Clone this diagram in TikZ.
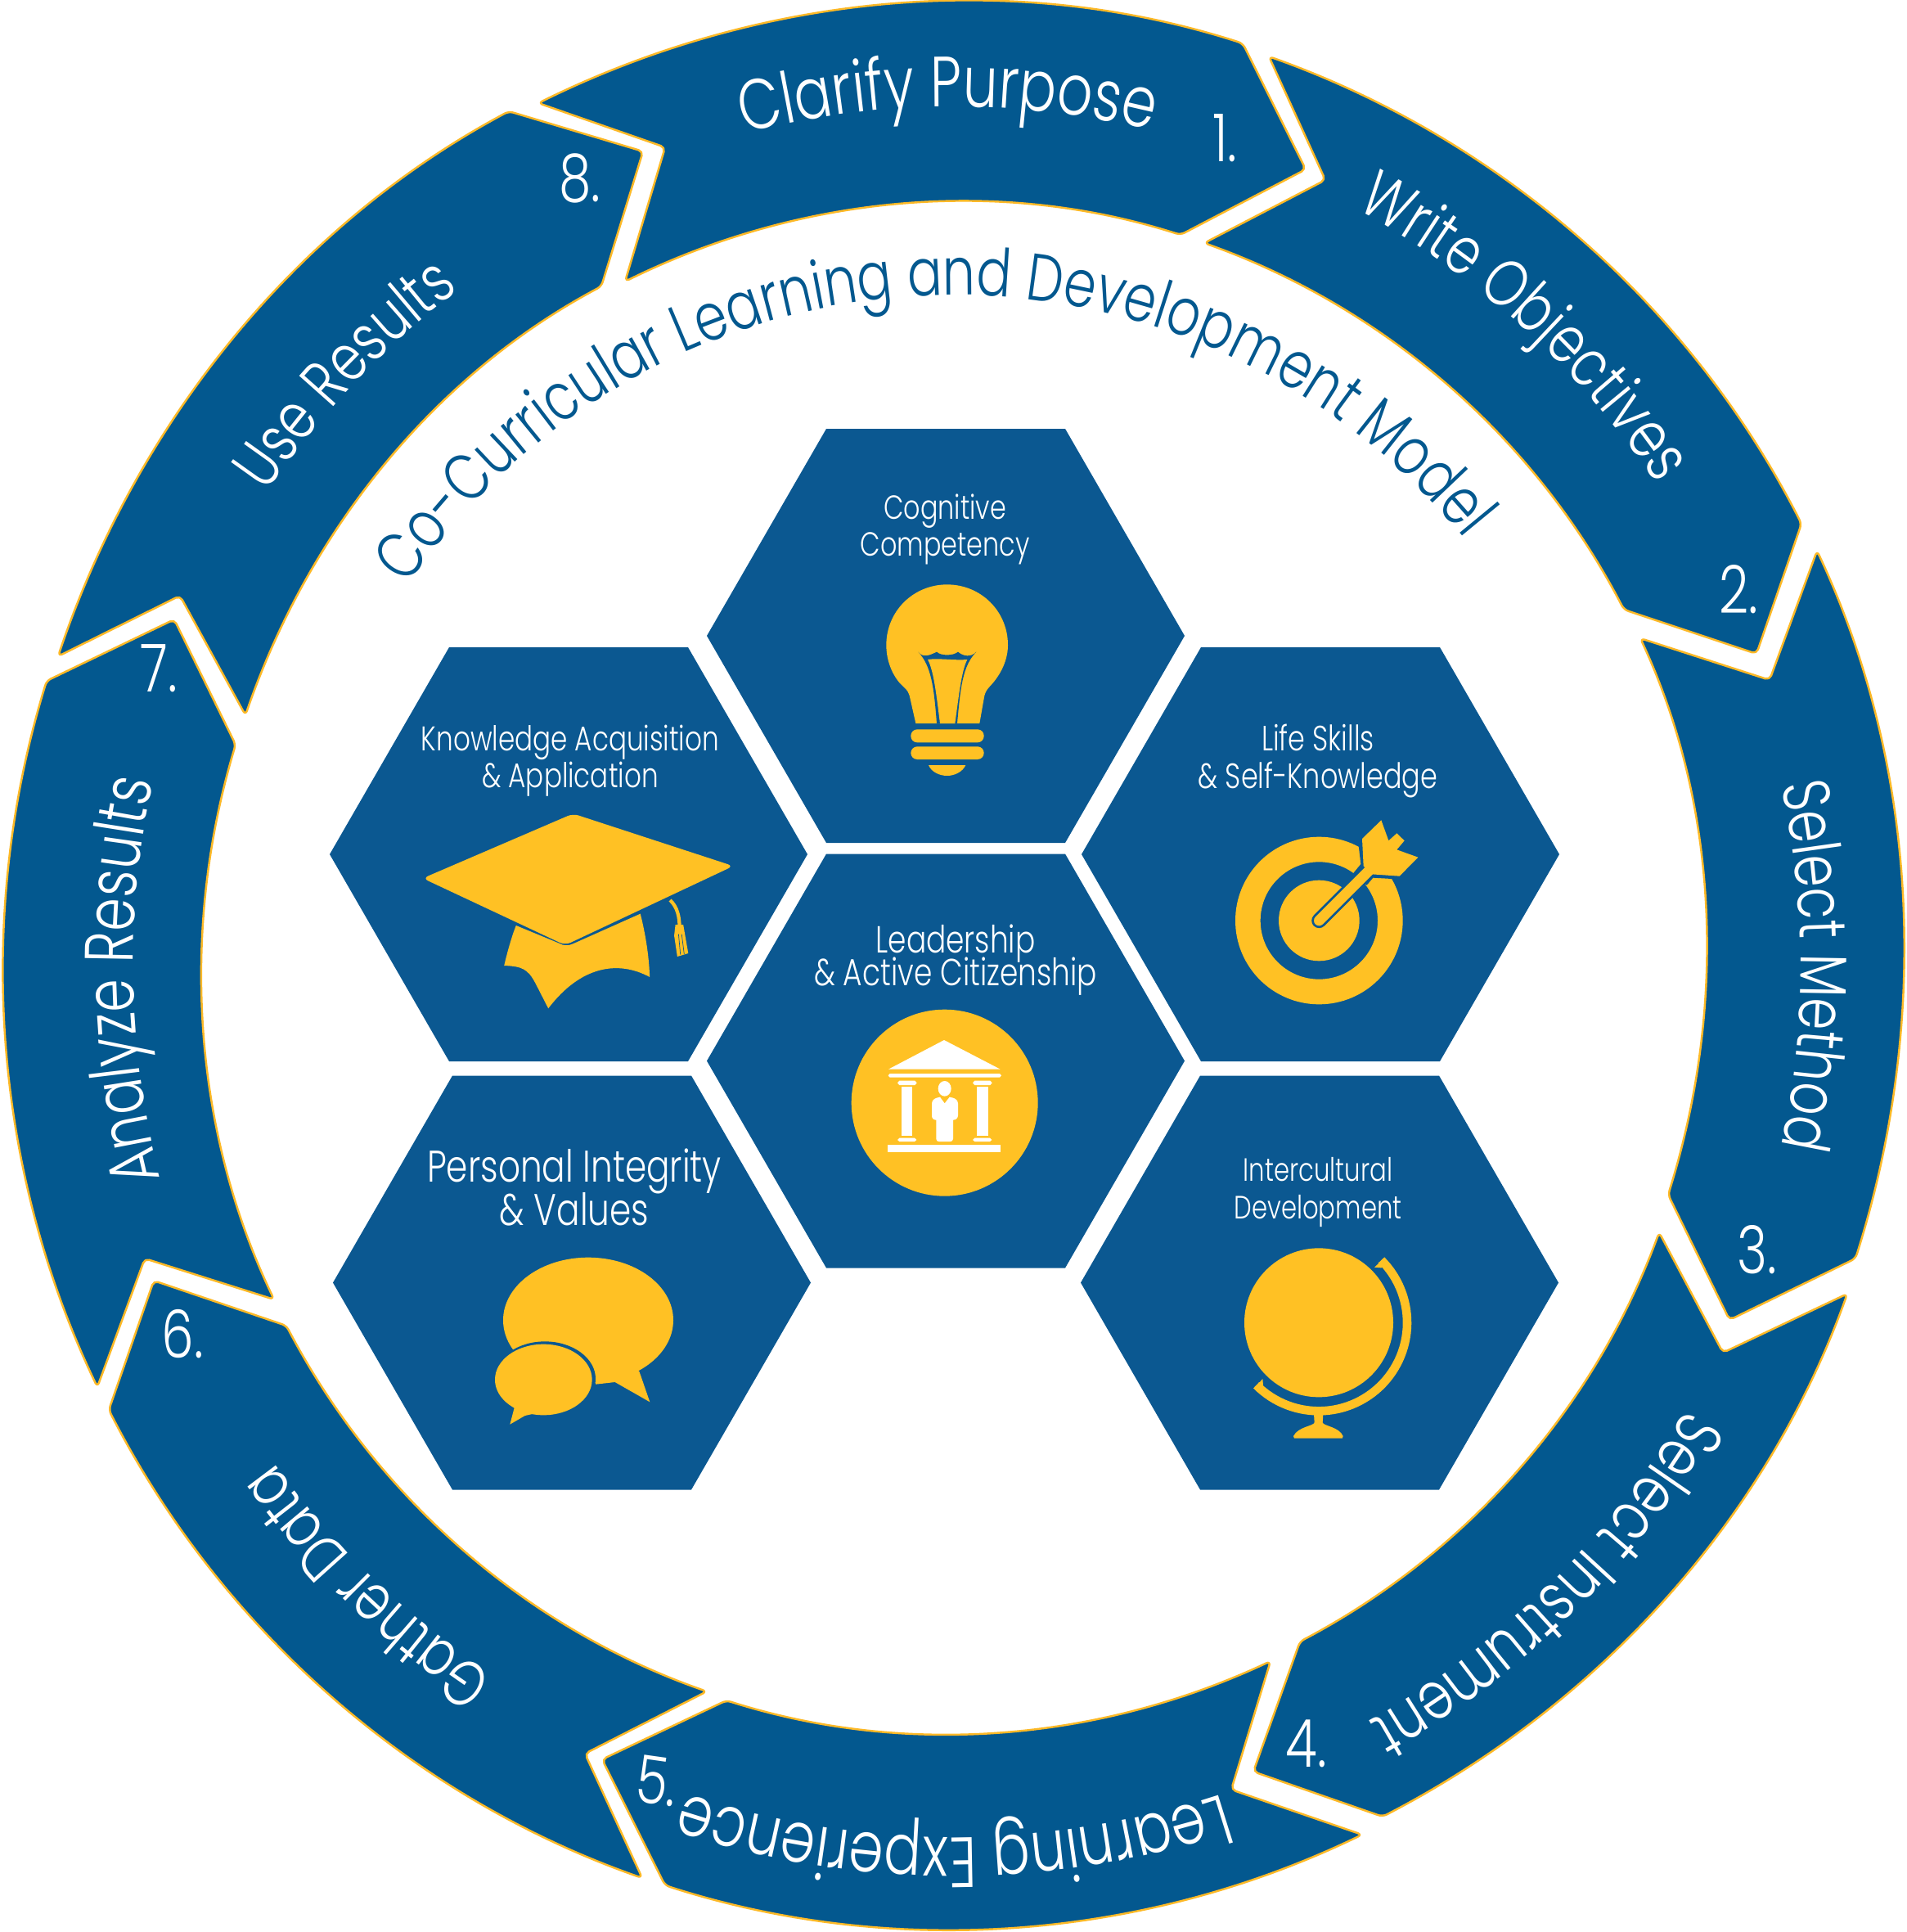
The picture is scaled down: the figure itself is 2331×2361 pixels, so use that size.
\documentclass[tikz,border=0pt]{standalone}
\usepackage{fontspec}
\usetikzlibrary{decorations.text}
\newfontfamily\hand[FakeStretch=0.78,UprightFont=* Light]{Poppins}
\definecolor{ringblue}{HTML}{03588F}
\definecolor{hexblue}{HTML}{0B5891}
\definecolor{gold}{HTML}{FDB927}
\definecolor{iconyel}{HTML}{FFC124}
\tikzset{
  seg/.style={fill=ringblue,draw=gold,line width=0.7pt,rounded corners=1.6pt,line join=round},
  hexfill/.style={fill=hexblue},
  icon/.style={fill=iconyel},
  ground/.style={fill=hexblue},
  hextxt/.style n args={2}{text=white,align=center,inner sep=0pt,font={\hand\fontsize{#1}{#2}\selectfont}},
  numtxt/.style={text=white,inner sep=0pt,font=\hand\fontsize{23}{23}\selectfont},
}
\newcommand\hexa[2]{\fill[hexfill,shift={(#1,#2)}] (-292,0) -- (-146,-253) -- (146,-253) -- (292,0) -- (146,253) -- (-146,253) -- cycle;}
\newcommand\arclabel[6]{% radius, mid angle, half span, size, colour, text
  \path[decorate,decoration={text along path,text align=center,
     text={|\hand\fontsize{#4}{#4}\selectfont\color{#5}|#6}}]
     plot[domain={#2-#3}:{#2+#3},samples=80] ({1165.5+#1*0.988*cos(\x)},{1180.5+#1*sin(\x)});}
\begin{document}
\begin{tikzpicture}[x=0.01cm,y=-0.01cm]
\useasboundingbox (0,0) rectangle (2331,2361);
\fill[white] (0,0) rectangle (2331,2361);
% ---------- ring segments ----------
\foreach \ox/\oy/\ex/\ey/\tx/\ty/\cx/\cy/\sx/\sy/\nx/\ny in {
  658/126/1519/53/1596/207/1443/287/764/344/813/180,
  1551/69/2202/640/2147/799/1985/745/1472/297/1620/220,
  2221/673/2268/1538/2114/1613/2039/1460/2005/780/2163/831,
  2258/1581/1690/2220/1532/2165/1589/2006/2028/1506/2106/1653,
  1665/2242/813/2304/736/2150/888/2078/1553/2030/1505/2187,
  785/2295/133/1723/188/1565/350/1620/864/2067/715/2143,
  119/1695/57/832/213/757/288/910/335/1588/177/1538,
  71/802/622/136/786/185/735/350/300/874/220/728}{
  \pgfmathsetmacro\ao{atan2((\oy-1180.5)/1180,(\ox-1165.5)/1166)}
  \pgfmathsetmacro\ae{atan2((\ey-1180.5)/1180,(\ex-1165.5)/1166)}
  \pgfmathsetmacro\ko{4/3*tan(mod(\ae-\ao+720,360)/4)}
  \pgfmathsetmacro\ac{atan2((\cy-1180.5)/934,(\cx-1165.5)/921)}
  \pgfmathsetmacro\as{atan2((\sy-1180.5)/934,(\sx-1165.5)/921)}
  \pgfmathsetmacro\ki{4/3*tan(mod(\ac-\as+720,360)/4)}
  \draw[seg] (\ox,\oy)
    .. controls ({\ox-\ko*0.987*(\oy-1180.5)},{\oy+\ko*1.013*(\ox-1165.5)})
       and ({\ex+\ko*0.987*(\ey-1180.5)},{\ey-\ko*1.013*(\ex-1165.5)}) .. (\ex,\ey)
    -- (\tx,\ty) -- (\cx,\cy)
    .. controls ({\cx+\ki*0.987*(\cy-1180.5)},{\cy-\ki*1.013*(\cx-1165.5)})
       and ({\sx-\ki*0.987*(\sy-1180.5)},{\sy+\ki*1.013*(\sx-1165.5)}) .. (\sx,\sy)
    -- (\nx,\ny) -- cycle;
}
% ---------- ring labels ----------
\arclabel{1050}{-90.4}{40}{24.7}{white}{Clarify Purpose}
\arclabel{1051}{-48}{40}{23}{white}{Write Objectives}
\arclabel{1048}{0}{40}{23}{white}{Select Method}
\arclabel{1056}{46}{40}{23.3}{white}{Select Instrument}
\arclabel{1065}{90}{40}{24.7}{white}{Learning Experience}
\arclabel{1037}{133.6}{40}{22.5}{white}{Gather Data}
\arclabel{1015}{179}{40}{23.8}{white}{Analyze Results}
\arclabel{1028}{-136}{40}{22.7}{white}{Use Results}
\arclabel{820}{-92.5}{80}{23}{ringblue}{Co-Curricular Learning and Development Model}
% ---------- numbers ----------
\node[numtxt] (n1) at (1497,169) {1.};
\node[numtxt] (n2) at (2125,720) {2.};
\node[numtxt] (n3) at (2148,1527) {3.};
\node[numtxt] (n4) at (1597,2131) {4.};
\node[numtxt,rotate=-8] (n5) at (803,2176) {5.};
\node[numtxt] (n6) at (223,1630) {6.};
\node[numtxt] (n7) at (194,817) {7.};
\node[numtxt] (n8) at (709,218) {8.};
% ---------- hexagons ----------
\hexa{1156}{777}
\hexa{695}{1044}
\hexa{1614}{1044}
\hexa{1156}{1296.5}
\hexa{699}{1567.5}
\hexa{1613}{1567.5}
\node[hextxt={11.6}{12.8}] (tcog) at (1155,647) {Cognitive\\Competency};
\node[hextxt={11.9}{12.8}] (tkno) at (697,930) {Knowledge Acquisition\\\& Application};
\node[hextxt={12.2}{12.8}] (tlif) at (1611,930) {Life Skills\\\& Self-Knowledge};
\node[hextxt={13.1}{12}] (tlea) at (1168,1173) {Leadership\\[-3pt]\& Active Citizenship};
\node[hextxt={15.4}{15}] (tper) at (702,1451) {Personal Integrity\\[-1.7pt]\& Values};
\node[hextxt={11.2}{13}] (tint) at (1611,1457) {Intercultural\\Development};
% ---------- bulb ----------
\begin{scope}[shift={(1000,600)},scale=1/3]
\fill[icon] (358,852) -- (335,750) .. controls (330,730) and (315,720) .. (300,705)
  .. controls (270,670) and (250,620) .. (250,565)
  .. controls (250,440) and (350,343) .. (473,343)
  .. controls (596,343) and (696,440) .. (696,565)
  .. controls (696,620) and (670,670) .. (640,705)
  .. controls (625,722) and (615,730) .. (610,750) -- (592,852) -- cycle;
\fill[ground] (367,590) .. controls (385,615) and (415,600) .. (435,590)
  .. controls (450,605) and (495,605) .. (513,590)
  .. controls (530,605) and (560,612) .. (580,590)
  .. controls (530,640) and (522,720) .. (510,852) -- (435,852)
  .. controls (425,720) and (415,640) .. (367,590) -- cycle;
\fill[icon] (402,618) .. controls (440,612) and (500,622) .. (547,618)
  .. controls (525,660) and (515,760) .. (502,852) -- (447,852)
  .. controls (435,760) and (425,660) .. (402,618) -- cycle;
\fill[icon,rounded corners=2.2pt] (340,874) rectangle (608,922);
\fill[icon,rounded corners=2.2pt] (340,937) rectangle (608,984);
\fill[icon] (405,1005) -- (541,1005) .. controls (530,1030) and (500,1044) .. (473,1044)
  .. controls (445,1044) and (415,1030) .. (405,1005) -- cycle;
\end{scope}
% ---------- mortar board ----------
\begin{scope}[shift={(400,780)},xscale=1/2.613,yscale=1/3]
\fill[icon] (603,1053) -- (740,1118) .. controls (755,1128) and (770,1128) .. (785,1120) -- (1000,1010)
  .. controls (1020,1100) and (1028,1180) .. (1030,1242)
  .. controls (930,1180) and (810,1200) .. (706,1357) -- (665,1265)
  .. controls (640,1210) and (620,1203) .. (565,1200)
  .. controls (575,1150) and (590,1090) .. (603,1053) -- cycle;
\fill[icon,rounded corners=2pt] (305,880) -- (785,643) -- (1297,835) -- (760,1125) -- cycle;
\draw[iconyel,line width=1.2pt] (1095,960) .. controls (1118,985) and (1125,1020) .. (1125,1060);
\fill[icon] (1112,1050) -- (1137,1050) -- (1153,1155) -- (1118,1167) -- (1108,1090) -- cycle;
\draw[hexblue,line width=0.2pt] (1122,1085) -- (1128,1160) (1132,1085) -- (1140,1158);
\end{scope}
% ---------- target ----------
\begin{scope}[shift={(1450,950)},scale=1/3]
\fill[icon,even odd rule] (487,525) circle (307) (487,525) circle (215);
\fill[icon] (487,525) circle (148);
\fill[ground] (612,352) -- (640,318) -- (632,250) -- (650,215) -- (820,300) -- (755,372) -- (685,368) -- (662,395) -- cycle;
\draw[hexblue,line width=5.2pt,line cap=round] (487,525) -- (640,372);
\draw[iconyel,line width=3.6pt,line cap=round] (487,525) -- (670,342);
\fill[icon,line join=round] (650,325) -- (645,225) -- (715,157) -- (742,232) -- (772,205) -- (800,232) -- (772,265) -- (850,293) -- (782,362) -- (680,355) -- cycle;
\end{scope}
% ---------- temple ----------
\begin{scope}[shift={(1000,1200)},scale=1/3]
\fill[icon] (464,443) circle (342);
\fill[white] (258,320) -- (462,213) -- (668,320) -- cycle;
\fill[white] (263,336) -- (666,336) -- (672,343) -- (666,350) -- (263,350) -- (257,343) -- cycle;
\fill[white] (298,362) -- (355,362) -- (362,370) -- (355,378) -- (298,378) -- (291,370) -- cycle;
\fill[white] (574,362) -- (631,362) -- (638,370) -- (631,378) -- (574,378) -- (567,370) -- cycle;
\fill[white] (306,385) rectangle (346,565);
\fill[white] (581,385) rectangle (623,565);
\fill[white] (298,572) -- (354,572) -- (361,579) -- (354,585) -- (298,585) -- (291,579) -- cycle;
\fill[white] (574,572) -- (630,572) -- (637,579) -- (630,585) -- (574,585) -- (567,579) -- cycle;
\fill[white] (464,391) ellipse (24 and 28);
\fill[white] (417,445) .. controls (418,430) and (430,425) .. (447,422) -- (464,445) -- (482,422)
  .. controls (500,425) and (512,430) .. (513,445) -- (513,490) .. controls (512,500) and (505,506) .. (495,506)
  -- (495,575) .. controls (495,582) and (490,585) .. (485,585) -- (443,585) .. controls (437,585) and (433,582) .. (433,575)
  -- (433,506) .. controls (423,506) and (417,500) .. (417,490) -- cycle;
\fill[white] (256,598) rectangle (670,625);
\end{scope}
% ---------- speech bubbles ----------
\begin{scope}[shift={(560,1500)},scale=1/3]
\fill[icon] (477,340) ellipse (312 and 230);
\fill[icon,line join=round] (470,500) -- (505,575) -- (575,567) -- (703,640) -- (665,530) -- (600,450) -- cycle;
\fill[ground] (318,555) ellipse (186 and 137);
\fill[icon] (313,558) ellipse (178 and 130);
\fill[icon] (205,650) -- (205,665) -- (190,722) -- (245,690) -- (290,680) -- cycle;
\end{scope}
% ---------- globe ----------
\begin{scope}[shift={(1480,1500)},scale=1/3]
\fill[icon] (396,349) circle (273);
\draw[iconyel,line width=3pt] plot[domain=-45:135,samples=60] ({396+324*cos(\x)},{349+324*sin(\x)});
\fill[icon] (600,146) -- (637,112) -- (652,130) -- (625,148) -- cycle;
\fill[icon] (190,555) -- (160,590) -- (175,605) -- (192,578) -- cycle;
\fill[icon] (378,685) -- (380,715) .. controls (378,728) and (320,730) .. (303,765) -- (306,773) -- (482,773) -- (485,765)
  .. controls (470,730) and (412,728) .. (410,715) -- (412,685) -- cycle;
\end{scope}
\end{tikzpicture}
\end{document}
